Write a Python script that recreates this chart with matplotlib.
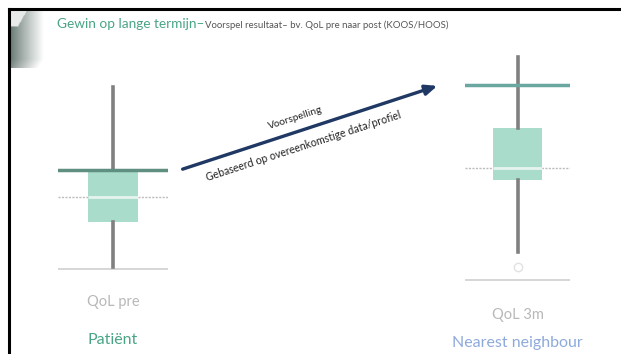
import numpy as np
import matplotlib
matplotlib.use("Agg")
import matplotlib.pyplot as plt
from matplotlib.lines import Line2D

plt.rcParams['font.family'] = ['Lato', 'DejaVu Sans']

# box statistics (QoL score, 0-100 scale) for patient and nearest neighbour
labels = ["QoL pre", "QoL 3m"]
whislo = [6.5, 15.5]
q1 = [29.0, 44.9]
med = [41.5, 49.8]
q3 = [55.0, 66.1]
whishi = [96.5, 95.1]
ref_value = [55.0, 83.7]
outliers = [[], [9.4]]
base_line = [5.5, 4.1]
groups = ["Patiënt", "Nearest neighbour"]
group_colors = ["#4aa584", "#8eaadb"]

W, H = 621, 354
fig = plt.figure(figsize=(W / 100, H / 100), dpi=100)

# overlay in pixel coordinates for the slide decoration
ov = fig.add_axes([0, 0, 1, 1])
ov.set_xlim(0, W)
ov.set_ylim(H, 0)
ov.axis("off")

# slide frame
ov.add_line(Line2D([9, W], [9, 9], color="black", lw=2.2, zorder=5))
ov.add_line(Line2D([9, 9], [9, H], color="black", lw=2.2, zorder=5))

# page-curl icon in the corner: grey on the left fading to white
gx = np.linspace(0, 1, 40)
gy = np.linspace(0, 1, 60)
GX, GY = np.meshgrid(gx, gy)
shade = np.clip(GX ** 0.9 * 1.1, 0, 1)
fold = (GY < 0.28) & (GX < 0.45 - 0.9 * GY)
shade[fold] = 0.85
shade = np.clip(shade + 0.25 * np.clip(GY - 0.85, 0, 1) * 4, 0, 1)
rgb = np.dstack([0.40 + 0.60 * shade, 0.47 + 0.53 * shade, 0.45 + 0.55 * shade])
ov.imshow(rgb, extent=(10, 48, 68, 10), aspect="auto", interpolation="bilinear", zorder=0)

# title
ov.text(57, 28, "Gewin op lange termijn–", color="#4aa584", fontsize=9.8, va="baseline")
ov.text(205, 28, "Voorspel resultaat– bv. QoL pre naar post (KOOS/HOOS)",
        color="#555555", fontsize=6.9, va="baseline")

# prediction arrow
ov.annotate("", xy=(440, 85), xytext=(180, 170),
            arrowprops=dict(arrowstyle="-|>,head_length=0.7,head_width=0.3",
                            color="#1f3864", lw=2.4))
ov.text(295, 118, "Voorspelling", rotation=18, rotation_mode="anchor",
        ha="center", va="center", fontsize=7.4, color="#222222")
ov.text(303, 146, "Gebaseerd op overeenkomstige data/profiel", rotation=18,
        rotation_mode="anchor", ha="center", va="center", fontsize=7.6, color="#222222")

# box plot axes: (left, top, right, bottom) in pixels
boxes_px = [(58, 80, 168, 280), (465, 45, 570, 290)]
label_y = [302, 315]
group_y = [340, 343]

for i, (x0, y0, x1, y1) in enumerate(boxes_px):
    ax = fig.add_axes([x0 / W, 1 - y1 / H, (x1 - x0) / W, (y1 - y0) / H])
    ax.set_xlim(0.5, 1.5)
    ax.set_ylim(0, 100)
    ax.axis("off")
    stats = [dict(whislo=whislo[i], q1=q1[i], med=med[i], q3=q3[i],
                  whishi=whishi[i], fliers=outliers[i], label=labels[i])]
    ax.bxp(stats, widths=0.46, patch_artist=True, showcaps=False,
           boxprops=dict(facecolor="#a9dcca", edgecolor="none"),
           whiskerprops=dict(color="#808080", lw=2.6),
           medianprops=dict(color="#e6f4ee", lw=2),
           flierprops=dict(marker="o", markersize=6, markerfacecolor="none",
                           markeredgecolor="#e2e2e2"))
    # faint grid at the median and the base line
    ax.axhline(med[i], color="#bbbbbb", lw=1, ls=(0, (1.5, 1)), zorder=0)
    ax.axhline(base_line[i], color="#d0d0d0", lw=1.2, zorder=0)
    ax.axhline(ref_value[i], color="#5e8f80" if i == 0 else "#6aa7a0", lw=2.5, zorder=3)
    cx = (x0 + x1) / 2
    ov.text(cx, label_y[i], labels[i], ha="center", va="center",
            fontsize=10.5, color="#b8b8b8")
    ov.text(cx, group_y[i], groups[i], ha="center", va="center",
            fontsize=11.5, color=group_colors[i])

fig.savefig("out.png", dpi=100, facecolor="white")
